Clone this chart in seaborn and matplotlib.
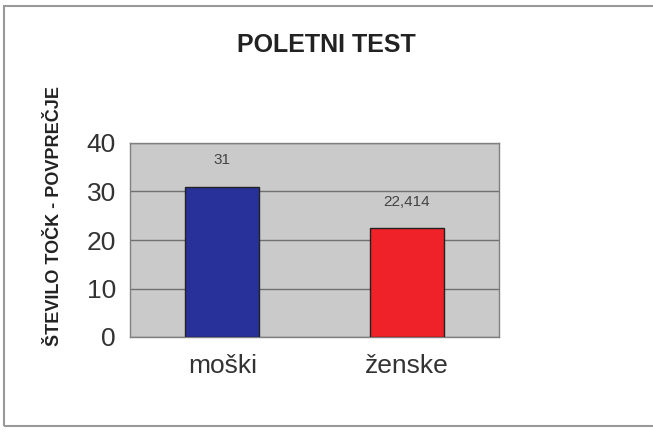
import matplotlib
matplotlib.use("Agg")
import matplotlib.pyplot as plt
import seaborn as sns
import pandas as pd
from matplotlib.patches import Rectangle

categories = ["moški", "ženske"]
values = [31, 22.414]
value_labels = ["31", "22,414"]
colors = ["#28309a", "#ee2228"]
title = "POLETNI TEST"
ylabel = "ŠTEVILO TOČK - POVPREČJE"
yticks = [0, 10, 20, 30, 40]

sns.set_style("white")
plt.rcParams['font.family'] = ['Liberation Sans', 'DejaVu Sans']

df = pd.DataFrame({"cat": categories, "val": values})

fig = plt.figure(figsize=(6.53, 4.34), dpi=100)
ax = fig.add_axes([130/653, 1-337/434, 369/653, 194/434])
sns.barplot(data=df, x="cat", y="val", hue="cat", palette=colors, width=0.4,
            saturation=1, edgecolor="#222222", linewidth=1.0, legend=False,
            ax=ax, zorder=3)
ax.set_facecolor("#cacaca")
ax.set_ylim(0, 40)
ax.set_yticks(yticks)
ax.set_yticklabels([str(t) for t in yticks], fontsize=19, color="#333333")
ax.yaxis.grid(True, color="#707070", linewidth=1.0, zorder=0)
ax.set_axisbelow(True)
for s in ax.spines.values():
    s.set_color("#808080")
    s.set_linewidth(1.0)
ax.tick_params(axis="y", length=7, color="#808080", pad=3)
ax.tick_params(axis="x", length=0, pad=12, labelsize=19, labelcolor="#333333")
ax.set_xlabel("")
ax.set_ylabel(ylabel, fontsize=13, fontweight="bold", color="#222222")
ax.yaxis.set_label_coords(-0.182, 0.624)
for p, lab in zip(ax.patches, value_labels):
    ax.annotate(lab, (p.get_x() + p.get_width()/2, p.get_height()),
                xytext=(0, 14), textcoords="offset points", ha="center", va="bottom",
                fontsize=11, color="#444444")
fig.text(0.5, 1-45/434, title, ha="center", va="center", fontsize=18,
         fontweight="bold", color="#222222")
fig.patches.append(Rectangle((4/653, 1-426/434), 660/653, 420/434, transform=fig.transFigure,
                             fill=False, edgecolor="#999999", linewidth=1.5))
fig.savefig("out.png", dpi=100)
